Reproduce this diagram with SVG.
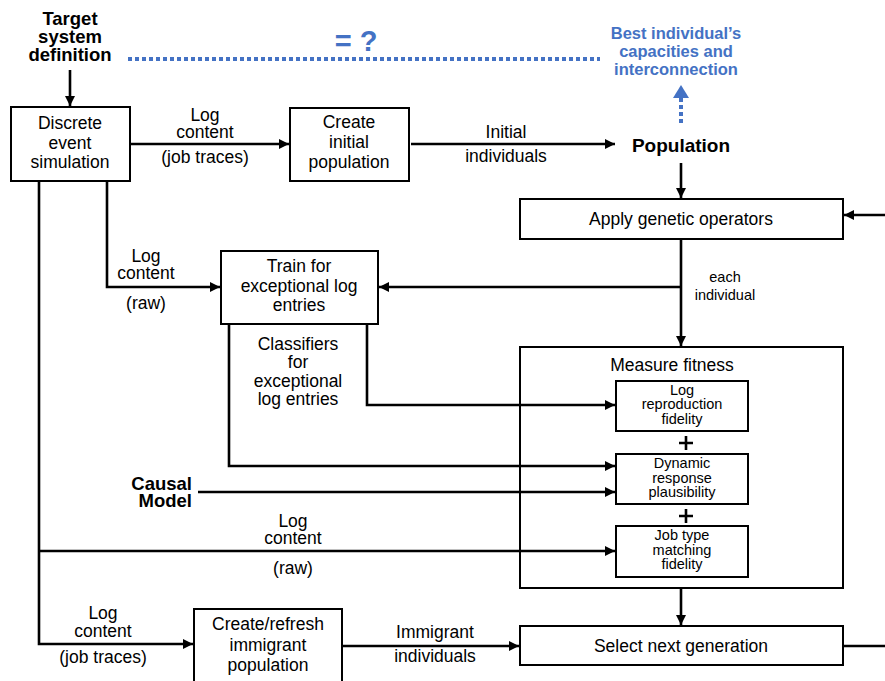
<svg xmlns="http://www.w3.org/2000/svg" width="885" height="681" viewBox="0 0 885 681">
  <style>
    .box { fill: #ffffff; stroke: #000000; stroke-width: 2; }
    .t { font-family: "Liberation Sans", Arial, sans-serif; font-size: 17.5px; fill: #000000; text-anchor: middle; }
    .s { font-family: "Liberation Sans", Arial, sans-serif; font-size: 14.5px; fill: #000000; text-anchor: middle; }
    .b { font-family: "Liberation Sans", Arial, sans-serif; font-size: 18.5px; font-weight: bold; fill: #000000; text-anchor: middle; }
    .blue { font-family: "Liberation Sans", Arial, sans-serif; font-size: 16.5px; font-weight: bold; fill: #4472C4; text-anchor: middle; }
    .ln { fill: none; stroke: #000000; stroke-width: 2.6; }
    .arr { marker-end: url(#ah); }
    .dot { fill: none; stroke: #4472C4; stroke-width: 4; stroke-dasharray: 4 3; }
  </style>
  <defs>
    <marker id="ah" viewBox="0 0 10 10" refX="10" refY="5" markerWidth="10" markerHeight="10" markerUnits="userSpaceOnUse" orient="auto">
      <path d="M0,0 L10,5 L0,10 z" fill="#000000"/>
    </marker>
  </defs>
  <rect width="885" height="681" fill="#ffffff"/>

  <!-- top labels -->
  <g id="target">
    <text class="b" x="70" y="25">Target</text>
    <text class="b" x="70" y="43">system</text>
    <text class="b" x="70" y="61">definition</text>
  </g>
  <g id="compare">
    <text x="356" y="51" font-family="Liberation Sans, Arial, sans-serif" font-size="29" font-weight="bold" fill="#4472C4" text-anchor="middle">= ?</text>
  </g>
  <g id="best">
    <text class="blue" x="676" y="39">Best individual’s</text>
    <text class="blue" x="676" y="57">capacities and</text>
    <text class="blue" x="676" y="75">interconnection</text>
  </g>

  <g id="des">
    <rect class="box" x="11" y="107" width="119" height="74"/>
    <text class="t" x="70" y="129">Discrete</text>
    <text class="t" x="70" y="149">event</text>
    <text class="t" x="70" y="168">simulation</text>
  </g>
  <g id="lbl-des-init">
    <text class="t" x="205" y="121">Log</text>
    <text class="t" x="205" y="138">content</text>
    <text class="t" x="205" y="163">(job traces)</text>
  </g>

  <g id="create-initial">
    <rect class="box" x="290" y="108" width="119" height="73"/>
    <text class="t" x="349" y="128">Create</text>
    <text class="t" x="349" y="148">initial</text>
    <text class="t" x="349" y="168">population</text>
  </g>
  <g id="lbl-initial">
    <text class="t" x="506" y="138">Initial</text>
    <text class="t" x="506" y="162">individuals</text>
  </g>

  <g id="population">
    <text class="b" x="681" y="152" style="font-size:19px">Population</text>
  </g>

  <g id="genetic">
    <rect class="box" x="520" y="199" width="323" height="40"/>
    <text class="t" x="681" y="225">Apply genetic operators</text>
  </g>
  <g id="lbl-each">
    <text class="s" x="725" y="282">each</text>
    <text class="s" x="725" y="300">individual</text>
  </g>

  <g id="train">
    <rect class="box" x="221" y="251" width="157" height="73"/>
    <text class="t" x="299" y="272">Train for</text>
    <text class="t" x="299" y="292">exceptional log</text>
    <text class="t" x="299" y="311">entries</text>
  </g>
  <g id="lbl-raw1">
    <text class="t" x="146" y="262">Log</text>
    <text class="t" x="146" y="279">content</text>
    <text class="t" x="146" y="309">(raw)</text>
  </g>
  <g id="lbl-classifiers">
    <text class="t" x="298" y="350">Classifiers</text>
    <text class="t" x="298" y="368">for</text>
    <text class="t" x="298" y="387">exceptional</text>
    <text class="t" x="298" y="405">log entries</text>
  </g>

  <g id="causal">
    <text class="b" x="192" y="490" style="text-anchor:end">Causal</text>
    <text class="b" x="192" y="507" style="text-anchor:end">Model</text>
  </g>
  <g id="lbl-raw2">
    <text class="t" x="293" y="527">Log</text>
    <text class="t" x="293" y="544">content</text>
    <text class="t" x="293" y="574">(raw)</text>
  </g>

  <g id="fitness">
    <rect class="box" x="520" y="347" width="323" height="241"/>
    <text class="t" x="672" y="371">Measure fitness</text>
  </g>
  <g id="log-fidelity">
    <rect class="box" x="616" y="381" width="132" height="50"/>
    <text class="s" x="682" y="395">Log</text>
    <text class="s" x="682" y="409">reproduction</text>
    <text class="s" x="682" y="424">fidelity</text>
  </g>
  <g id="plus1">
    <path d="M679,443 H693 M686,436 V450" stroke="#000000" stroke-width="2.6"/>
  </g>
  <g id="dynamic">
    <rect class="box" x="616" y="454" width="132" height="50"/>
    <text class="s" x="682" y="468">Dynamic</text>
    <text class="s" x="682" y="483">response</text>
    <text class="s" x="682" y="497">plausibility</text>
  </g>
  <g id="plus2">
    <path d="M679,516 H693 M686,509 V523" stroke="#000000" stroke-width="2.6"/>
  </g>
  <g id="jobtype">
    <rect class="box" x="616" y="526" width="132" height="51"/>
    <text class="s" x="682" y="540">Job type</text>
    <text class="s" x="682" y="555">matching</text>
    <text class="s" x="682" y="569">fidelity</text>
  </g>

  <g id="lbl-jobtraces2">
    <text class="t" x="103" y="619">Log</text>
    <text class="t" x="103" y="637">content</text>
    <text class="t" x="103" y="663">(job traces)</text>
  </g>
  <g id="immigrant">
    <rect class="box" x="194" y="609" width="148" height="80"/>
    <text class="t" x="268" y="630">Create/refresh</text>
    <text class="t" x="268" y="651">immigrant</text>
    <text class="t" x="268" y="671">population</text>
  </g>
  <g id="lbl-immigrant">
    <text class="t" x="435" y="638">Immigrant</text>
    <text class="t" x="435" y="662">individuals</text>
  </g>

  <g id="select">
    <rect class="box" x="520" y="626" width="323" height="39"/>
    <text class="t" x="681" y="652">Select next generation</text>
  </g>

  <!-- connectors, drawn last so they run over the fitness panel -->
  <g id="connectors">
    <path class="ln arr" d="M70,70 V106"/>
    <path class="ln arr" d="M130,144 H289"/>
    <path class="ln arr" d="M411,144 H615"/>
    <path class="ln arr" d="M681,163 V198"/>
    <path class="ln arr" d="M885,215 H844"/>
    <path class="ln arr" d="M681,239 V346"/>
    <path class="ln arr" d="M681,287 H379"/>
    <path class="ln arr" d="M107,181 V287 H220"/>
    <path class="ln arr" d="M367,324 V405 H615"/>
    <path class="ln arr" d="M229,324 V466 H615"/>
    <path class="ln arr" d="M198,492 H615"/>
    <path class="ln arr" d="M39,181 V644 H193"/>
    <path class="ln arr" d="M39,551 H615"/>
    <path class="ln arr" d="M342,646 H519"/>
    <path class="ln arr" d="M681,588 V625"/>
    <path class="ln" d="M843,646 H885"/>
    <!-- dotted comparison line and result arrow -->
    <path class="dot" d="M128,59 H600"/>
    <path class="dot" d="M681,123 V98"/>
    <polygon points="681,85 689,98 673,98" fill="#4472C4"/>
  </g>
</svg>
